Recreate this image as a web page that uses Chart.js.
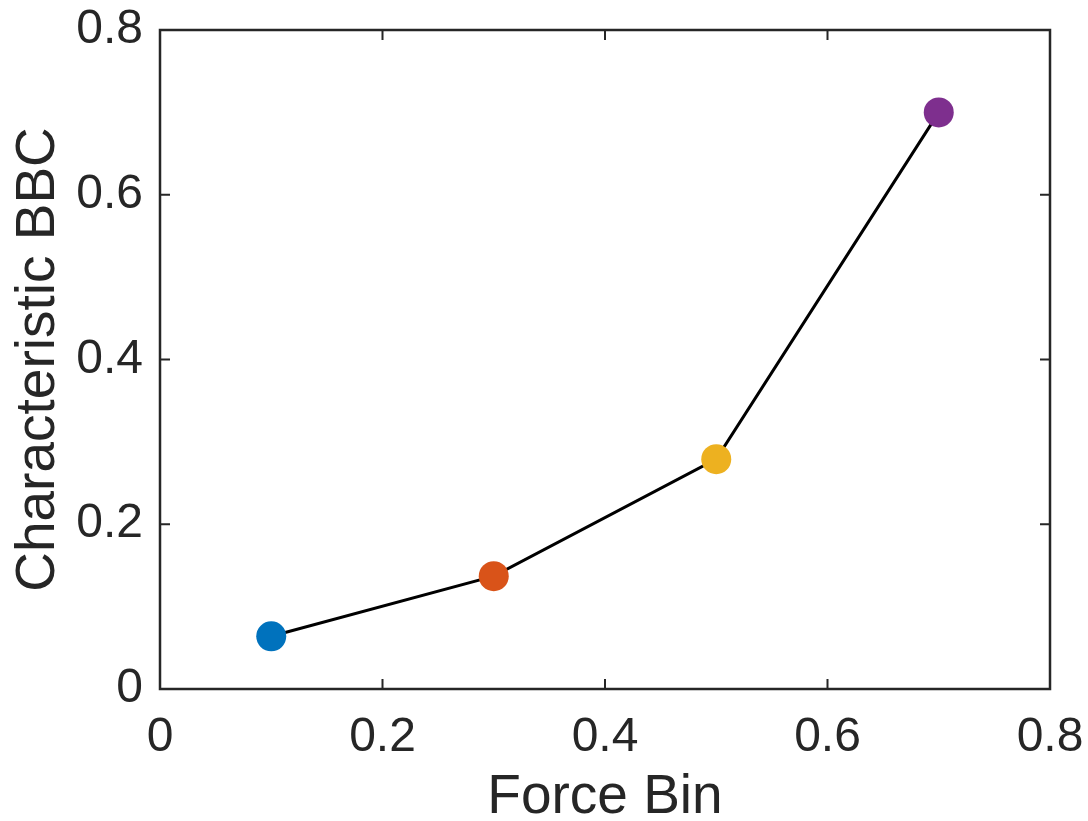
<!DOCTYPE html>
<html>
<head>
  <style>
    html, body { margin: 0; padding: 0; background: #ffffff; }
    canvas { display: block; }
  </style>
</head>
<body>
  <canvas id="bbcChart" width="1088" height="821"></canvas>

  <script src="https://cdn.jsdelivr.net/npm/chart.js"></script>
  <script type="text/javascript">
    // force bins and the characteristic BBC measured in each
    const forceBins = [0.1, 0.3, 0.5, 0.7];
    const bbcValues = [0.064, 0.137, 0.279, 0.700];
    const pointColors = ['#0072BD', '#D95319', '#EDB120', '#7E2F8E'];

    const xTicks = [0, 0.2, 0.4, 0.6, 0.8];
    const yTicks = [0, 0.2, 0.4, 0.6, 0.8];

    const axisColor = '#262626';
    const fontFamily = '"Liberation Sans", Arial, Helvetica, sans-serif';

    // MATLAB-style box with inward ticks on all four sides
    const boxPlugin = {
      id: 'boxPlugin',
      afterDraw(chart) {
        const { ctx, chartArea: a, scales } = chart;
        const len = 10;
        ctx.save();
        ctx.strokeStyle = axisColor;
        ctx.lineWidth = 2.5;
        ctx.strokeRect(a.left, a.top, a.right - a.left, a.bottom - a.top);
        ctx.lineWidth = 2;
        ctx.beginPath();
        scales.x.ticks.forEach(t => {
          const px = scales.x.getPixelForValue(t.value);
          ctx.moveTo(px, a.bottom); ctx.lineTo(px, a.bottom - len);
          ctx.moveTo(px, a.top); ctx.lineTo(px, a.top + len);
        });
        scales.y.ticks.forEach(t => {
          const py = scales.y.getPixelForValue(t.value);
          ctx.moveTo(a.left, py); ctx.lineTo(a.left + len, py);
          ctx.moveTo(a.right, py); ctx.lineTo(a.right - len, py);
        });
        ctx.stroke();
        ctx.restore();
      }
    };

    const points = forceBins.map((x, i) => ({ x: x, y: bbcValues[i] }));

    new Chart(document.getElementById('bbcChart'), {
      type: 'scatter',
      data: {
        datasets: [{
          label: 'BBC',
          data: points,
          showLine: true,
          borderColor: '#000000',
          borderWidth: 3,
          pointRadius: 15,
          pointHoverRadius: 15,
          pointBorderWidth: 0,
          pointBackgroundColor: pointColors,
          pointBorderColor: pointColors
        }]
      },
      options: {
        responsive: false,
        animation: false,
        layout: { padding: { top: 30, right: 38, left: 0, bottom: 0 } },
        plugins: {
          legend: { display: false },
          tooltip: { enabled: false }
        },
        scales: {
          x: {
            type: 'linear',
            min: 0,
            max: 0.8,
            afterBuildTicks: s => { s.ticks = xTicks.map(v => ({ value: v })); },
            // fixed axis band; tick label overflow must not shrink the plot box
            afterFit: s => { s.height = 132; s.paddingLeft = 0; s.paddingRight = 0; },
            grid: { display: false, drawTicks: false },
            border: { display: false },
            ticks: {
              color: axisColor,
              padding: 20,
              maxRotation: 0,
              font: { family: fontFamily, size: 48 }
            },
            title: {
              display: true,
              text: 'Force Bin',
              color: axisColor,
              padding: { top: 0, bottom: -4 },
              font: { family: fontFamily, size: 55, lineHeight: 1 }
            }
          },
          y: {
            type: 'linear',
            min: 0,
            max: 0.8,
            afterBuildTicks: s => { s.ticks = yTicks.map(v => ({ value: v })); },
            afterFit: s => { s.width = 160; s.paddingTop = 0; s.paddingBottom = 0; },
            grid: { display: false, drawTicks: false },
            border: { display: false },
            ticks: {
              color: axisColor,
              padding: 17,
              font: { family: fontFamily, size: 48 }
            },
            title: {
              display: true,
              text: 'Characteristic BBC',
              color: axisColor,
              padding: { top: 11, bottom: 0 },
              font: { family: fontFamily, size: 55, lineHeight: 1 }
            }
          }
        }
      },
      plugins: [boxPlugin]
    });
  </script>
</body>
</html>
